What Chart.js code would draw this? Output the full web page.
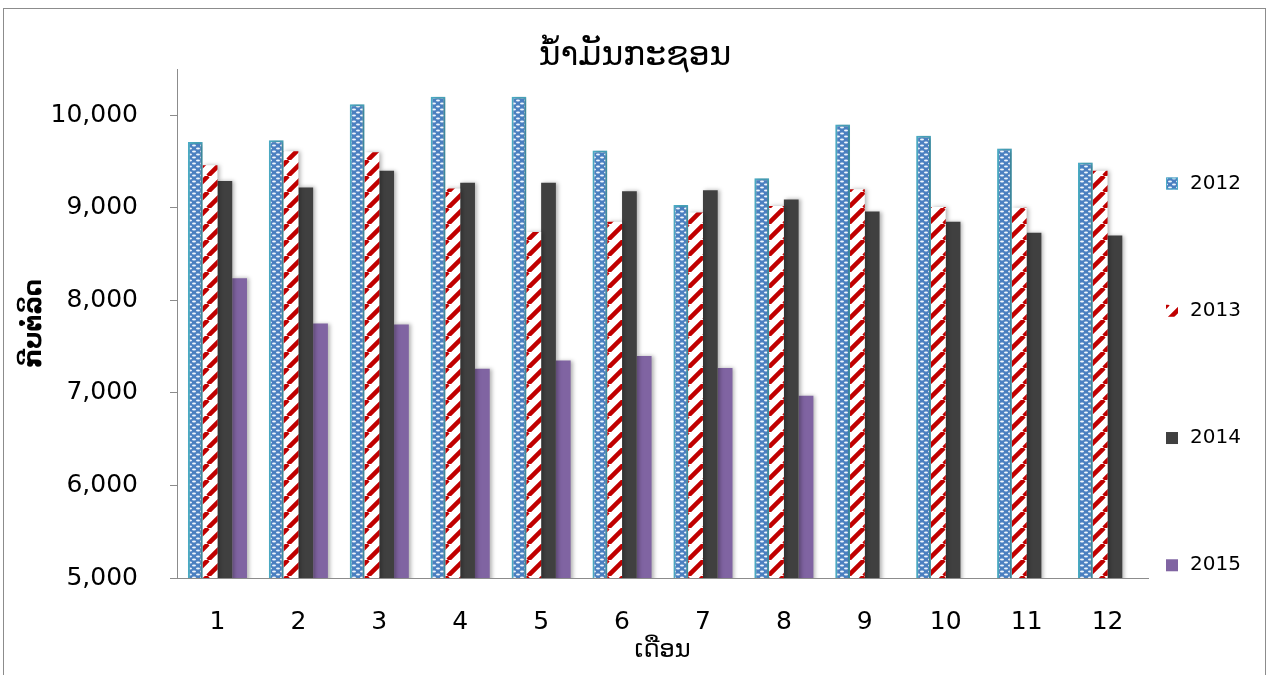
<!DOCTYPE html>
<html>
<head>
<meta charset="utf-8">
<script src="https://cdn.jsdelivr.net/npm/chart.js@4.4.1/dist/chart.umd.min.js"></script>
<style>
  body { margin: 0; background: #fff; }
  #wrap { position: relative; width: 1270px; height: 675px; overflow: hidden; }
  #frame { position: absolute; left: 3px; top: 8px; width: 1261px; height: 700px; border: 1px solid #8c8c8c; }
  #myChart { position: absolute; left: 0; top: 0; }
</style>
</head>
<body>
<div id="wrap">
  <div id="frame"></div>
  <canvas id="myChart" width="1270" height="675"></canvas>
</div>
<script>
const months = ["1", "2", "3", "4", "5", "6", "7", "8", "9", "10", "11", "12"];
const years = ["2012", "2013", "2014", "2015"];
const price2012 = [9710, 9730, 10120, 10200, 10200, 9620, 9030, 9320, 9900, 9780, 9640, 9490];
const price2013 = [9460, 9610, 9600, 9210, 8740, 8850, 8950, 9020, 9200, 9010, 9000, 9400];
const price2014 = [9290, 9220, 9400, 9270, 9270, 9180, 9190, 9090, 8960, 8850, 8730, 8700];
const price2015 = [8240, 7750, 7740, 7260, 7350, 7400, 7270, 6970];
const yTicks = [5000, 6000, 7000, 8000, 9000, 10000];

document.addEventListener("DOMContentLoaded", function () {
  Chart.defaults.font.family = "'DejaVu Sans', sans-serif";
  Chart.defaults.color = "#000";

  // blue fill with little white dashes
  function dotPattern() {
    const c = document.createElement("canvas");
    c.width = 8;
    c.height = 6;
    const g = c.getContext("2d");
    g.fillStyle = "#4a7fc0";
    g.fillRect(0, 0, 8, 6);
    g.fillStyle = "#f0f6fc";
    g.beginPath();
    g.ellipse(2, 1.5, 2, 1, 0, 0, Math.PI * 2);
    g.fill();
    g.beginPath();
    g.ellipse(6, 4.5, 2, 1, 0, 0, Math.PI * 2);
    g.fill();
    return g.createPattern(c, "repeat");
  }

  // white fill with red "/" stripes
  function stripePattern() {
    const s = 16;
    const c = document.createElement("canvas");
    c.width = s;
    c.height = s;
    const g = c.getContext("2d");
    g.fillStyle = "#ffffff";
    g.fillRect(0, 0, s, s);
    g.strokeStyle = "#c00000";
    g.lineWidth = 4.5;
    g.beginPath();
    [-s, 0, s].forEach(function (o) {
      g.moveTo(o, s);
      g.lineTo(o + s, 0);
    });
    g.stroke();
    return g.createPattern(c, "repeat");
  }

  const shadow = {
    id: "barShadow",
    beforeDatasetsDraw(chart) {
      const ctx = chart.ctx;
      ctx.save();
      ctx.shadowColor = "rgba(0,0,0,0.3)";
      ctx.shadowBlur = 4;
      ctx.shadowOffsetX = 2;
      ctx.shadowOffsetY = 0;
    },
    afterDatasetsDraw(chart) {
      chart.ctx.restore();
    },
  };

  const sideLegend = {
    id: "sideLegend",
    afterDraw(chart) {
      const ctx = chart.ctx;
      const area = chart.chartArea;
      const step = (area.bottom - area.top) / 4;
      chart.data.datasets.forEach(function (ds, i) {
        const y = area.top + step * (i + 0.9);
        const x = area.right + 18;
        ctx.save();
        ctx.fillStyle = ds.backgroundColor;
        ctx.fillRect(x, y - 6, 12, 12);
        if (ds.borderWidth) {
          ctx.strokeStyle = ds.borderColor;
          ctx.lineWidth = 1;
          ctx.strokeRect(x + 0.5, y - 5.5, 11, 11);
        }
        ctx.fillStyle = "#000";
        ctx.font = "20px 'DejaVu Sans'";
        ctx.textBaseline = "middle";
        ctx.fillText(ds.label, x + 24, y);
        ctx.restore();
      });
    },
  };

  const data = {
    labels: months,
    datasets: [
      { label: years[0], data: price2012, backgroundColor: dotPattern(), borderColor: "#4bacc6", borderWidth: 2 },
      { label: years[1], data: price2013, backgroundColor: stripePattern(), borderWidth: 0 },
      { label: years[2], data: price2014, backgroundColor: "#404040", borderWidth: 0 },
      { label: years[3], data: price2015, backgroundColor: "#8064a2", borderWidth: 0 },
    ],
  };

  new Chart(document.getElementById("myChart"), {
    type: "bar",
    data,
    plugins: [shadow, sideLegend],
    options: {
      responsive: false,
      animation: false,
      datasets: {
        bar: { barPercentage: 1, categoryPercentage: 0.73 },
      },
      layout: {
        padding: { left: 16, right: 16, top: 0, bottom: 6 },
      },
      scales: {
        x: {
          grid: { display: false, drawTicks: false },
          border: { display: true, color: "#8c8c8c" },
          ticks: { padding: 29, font: { size: 25 } },
          title: {
            display: true,
            text: "ເດືອນ",
            font: { size: 24 },
            padding: { top: 0, bottom: 4 },
          },
          afterFit(scale) {
            scale.height = 91;
          },
        },
        y: {
          min: 5000,
          max: 10500,
          afterBuildTicks(scale) {
            scale.ticks = yTicks.map(function (v) { return { value: v }; });
          },
          ticks: {
            padding: 32,
            font: { size: 25 },
            callback: function (value) {
              return value.toLocaleString("en-US");
            },
          },
          grid: { drawOnChartArea: false, tickLength: 7, color: "#8c8c8c" },
          border: { color: "#8c8c8c" },
          title: {
            display: true,
            text: "ກີບຕໍ່ລິດ",
            font: { size: 24, weight: "bold" },
          },
          afterFit(scale) {
            scale.width = 161;
          },
        },
        // empty right axis only keeps room for the legend
        legendRoom: {
          position: "right",
          min: 5000,
          max: 10500,
          grid: { display: false },
          border: { display: false },
          ticks: { display: false },
          afterFit(scale) {
            scale.width = 106;
          },
        },
      },
      plugins: {
        legend: { display: false },
        tooltip: { enabled: false },
        title: {
          display: true,
          text: "ນ້ຳມັນກະຊອນ",
          font: { size: 33, weight: "normal", lineHeight: 1 },
          color: "#000",
          padding: { top: 40, bottom: -4 },
        },
      },
    },
  });
});
</script>
</body>
</html>
